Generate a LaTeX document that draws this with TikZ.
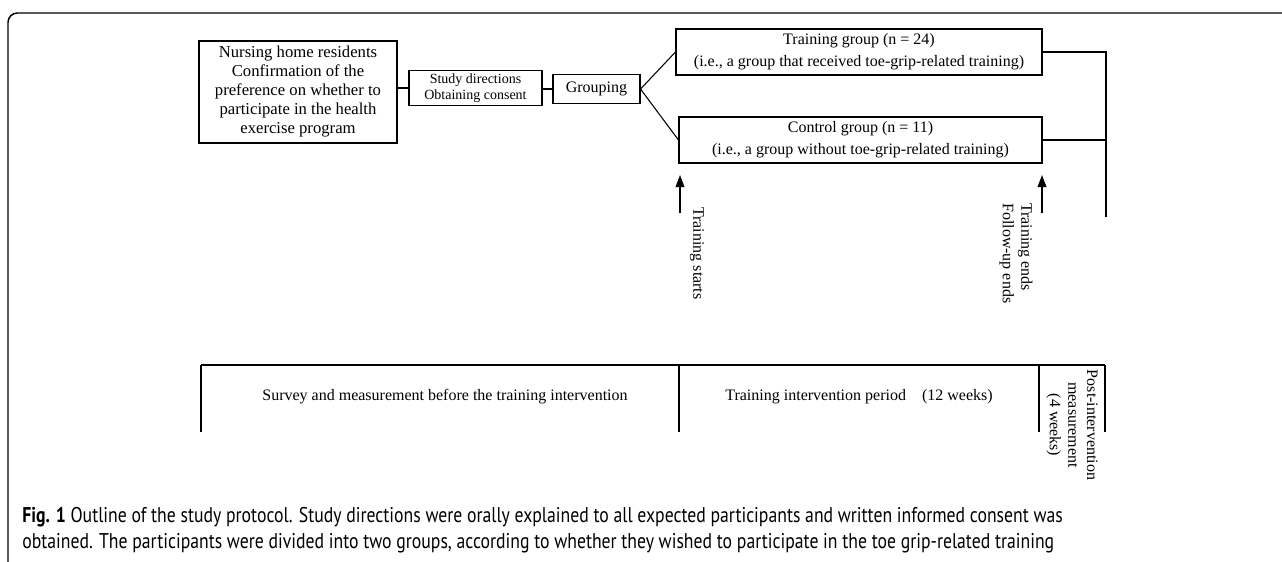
\documentclass[tikz,border=0pt]{standalone}
\usepackage{fontspec}
\setmainfont{Liberation Serif}
\newfontfamily\capfont[FakeStretch=0.83]{PT Sans}
\usetikzlibrary{calc,arrows.meta}

\begin{document}
\begin{tikzpicture}[x=0.75pt,y=-0.75pt,
  box/.style={draw,line width=0.8pt,inner sep=0pt,align=center,font=\fontsize{12}{14.25}\selectfont},
  wire/.style={line width=0.8pt},
  upar/.style={line width=1.1pt,-{Triangle[length=9pt,width=6.5pt]}},
  vtext/.style={rotate=-90,inner sep=0pt,font=\fontsize{12}{14}\selectfont},
  period/.style={inner sep=0pt,font=\fontsize{12}{14.25}\selectfont},
  capline/.style={anchor=west,inner sep=0pt,font=\capfont\fontsize{16}{19.5}\selectfont}]
\useasboundingbox (0,0) rectangle (1282,561);
\draw [line width=1.1pt,rounded corners=7pt] (8,563) -- (8,13) -- (1284,13);

\node [box,minimum width=148.5pt,minimum height=76.5pt,font=\fontsize{12.5}{14.25}\selectfont] (residents) at (298,92) {Nursing home residents\\Confirmation of the\\preference on whether to\\participate in the health\\exercise program};
\node [box,minimum width=99.75pt,minimum height=26.25pt,font=\fontsize{10.5}{12.5}\selectfont] (consent) at (475.5,88) {Study directions\\Obtaining consent};
\node [box,minimum width=65.25pt,minimum height=21.75pt] (grouping) at (596.5,89) {Grouping};
\node [box,minimum width=274.5pt,minimum height=34.5pt,font=\fontsize{12}{16.5}\selectfont] (training) at (859,52) {Training group (n = 24)\\(i.e., a group that received toe-grip-related training)};
\node [box,minimum width=272.25pt,minimum height=34.5pt,font=\fontsize{12}{16.5}\selectfont] (control) at (860.5,140) {Control group (n = 11)\\(i.e., a group without toe-grip-related training)};

\draw [wire] (consent.west) -- (consent.west -| residents.east);
\draw [wire] (grouping.west) -- (grouping.west -| consent.east);
\draw [wire] (training.west) -- (grouping.east) -- (control.west);
\coordinate (join) at (1106,217);
\draw [wire] (training.east) -- (training.east -| join) -- (join);
\draw [wire] (control.east) -- (control.east -| join);

\coordinate (starttail) at (680,213);
\coordinate (starttip) at (680,175);
\coordinate (endtail) at (1042,213);
\coordinate (endtip) at (1042,175);
\draw [upar] (starttail) -- (starttip);
\draw [upar] (endtail) -- (endtip);
\node [vtext,anchor=west] (starts) at (697,207) {Training starts};
\node [vtext,anchor=west,align=left] (ends) at (1016,203) {Training ends\\Follow-up ends};

\coordinate (p0) at (201,365);
\coordinate (p1) at (679,365);
\coordinate (p2) at (1039,365);
\coordinate (p3) at (1105,365);
\draw [wire] (p0) -- (p3);
\foreach \p in {p0,p1,p2,p3}
  \draw [wire] (\p) -- ++(0,67);
\node [period] (before) at (445,397) {Survey and measurement before the training intervention};
\node [period] (during) at (859,397) {Training intervention period\quad(12 weeks)};
\node [vtext,align=center] (post) at (1072,425) {Post-intervention\\measurement\\(4 weeks)};

\node [capline] (cap1) at (22,517) {\textbf{Fig. 1} Outline of the study protocol. Study directions were orally explained to all expected participants and written informed consent was};
\node [capline] (cap2) at (22,543) {obtained. The participants were divided into two groups, according to whether they wished to participate in the toe grip-related training};
\end{tikzpicture}
\end{document}
